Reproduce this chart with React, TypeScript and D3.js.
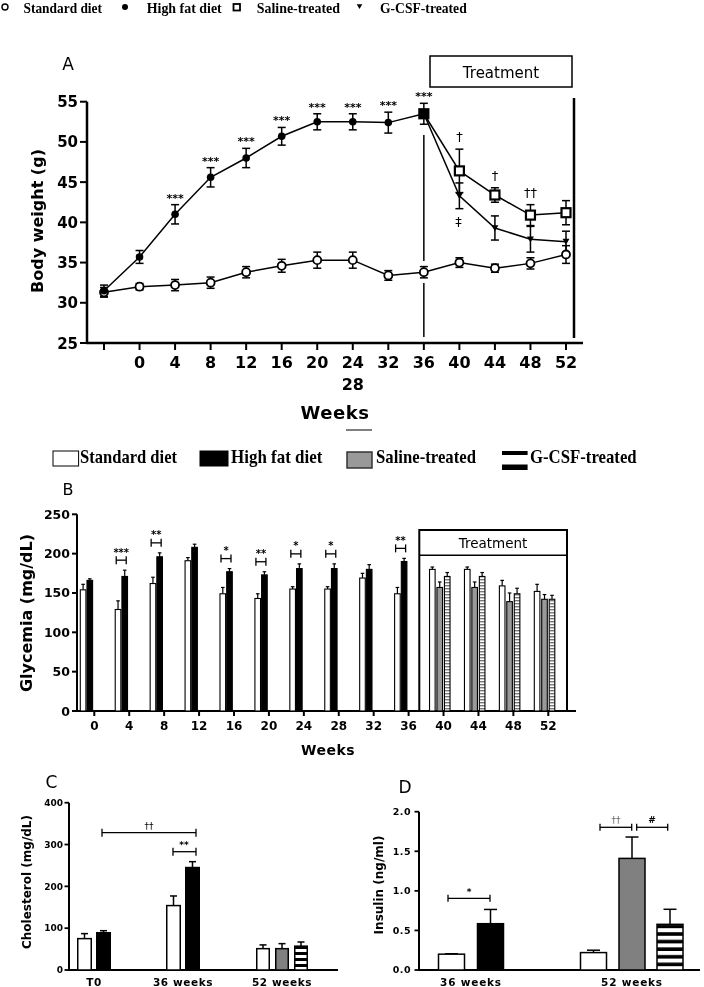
import React from 'react';
import * as d3 from 'd3';

const SANS = "'DejaVu Sans', sans-serif";
const SERIF = "'Liberation Serif', 'Times New Roman', serif";

// ---------- Panel A: body weight ----------
const weeksA = ["", "0", "4", "8", "12", "16", "20", "24", "32", "36", "40", "44", "48", "52"];
const stdA = [31.3, 32.0, 32.2, 32.5, 33.8, 34.6, 35.3, 35.3, 33.4, 33.8, 35.0, 34.3, 34.9, 36.0];
const stdErrA = [0.6, 0.4, 0.7, 0.7, 0.7, 0.8, 1.0, 1.0, 0.6, 0.7, 0.6, 0.5, 0.7, 1.1];
const hfWeeksA = ["", "0", "4", "8", "12", "16", "20", "24", "32", "36"];
const hfA = [31.5, 35.7, 41.0, 45.6, 48.0, 50.7, 52.5, 52.5, 52.4, 53.5];
const hfErrA = [0.7, 0.8, 1.2, 1.2, 1.2, 1.1, 1.0, 1.0, 1.3, 1.3];
const hfSigA = ["", "", "***", "***", "***", "***", "***", "***", "***", "***"];
const trWeeksA = ["36", "40", "44", "48", "52"];
const salA = [53.5, 46.4, 43.4, 40.9, 41.2];
const salErrA = [0, 2.7, 0.9, 1.3, 1.5];
const salSigA = ["", "†", "†", "††", ""];
const gcsfA = [53.5, 43.3, 39.3, 37.9, 37.6];
const gcsfErrA = [0, 1.6, 1.5, 1.6, 1.3];
const gcsfSigA = ["", "‡", "", "", ""];

// ---------- Panel B: glycemia ----------
const weeksB = ["0", "4", "8", "12", "16", "20", "24", "28", "32", "36", "40", "44", "48", "52"];
const stdB = [154, 129, 162, 191, 149, 143, 155, 155, 169, 149, 180, 180, 159, 152];
const stdErrB = [7, 11, 8, 4, 8, 6, 3, 3, 6, 8, 3, 3, 7, 9];
const hfWeeksB = ["0", "4", "8", "12", "16", "20", "24", "28", "32", "36"];
const hfB = [166, 171, 196, 208, 177, 173, 181, 181, 180, 190];
const hfErrB = [2, 8, 5, 4, 4, 4, 6, 6, 6, 4];
const sigB = ["", "***", "**", "", "*", "**", "*", "*", "", "**"];
const trWeeksB = ["40", "44", "48", "52"];
const salB = [157, 157, 139, 142];
const salErrB = [7, 7, 11, 6];
const gcsfB = [171, 171, 149, 142];
const gcsfErrB = [5, 5, 7, 5];

// ---------- Panel C: cholesterol ----------
const groupsC = ["T0", "36 weeks", "52 weeks"];
const stdC = [75, 154, 51];
const stdErrC = [12, 23, 9];
const hfC = [89, 245];
const hfErrC = [5, 14];
const salC = [51];
const salErrC = [12];
const gcsfC = [57];
const gcsfErrC = [10];

// ---------- Panel D: insulin ----------
const groupsD = ["36 weeks", "52 weeks"];
const stdD = [0.2, 0.22];
const stdErrD = [0.005, 0.03];
const hfD = [0.585];
const hfErrD = [0.18];
const salD = [1.41];
const salErrD = [0.27];
const gcsfD = [0.577];
const gcsfErrD = [0.19];

type TP = {
  x: number; y: number; size: number; sx?: number; anchor?: string; weight?: string | number;
  family?: string; rotate?: number; fill?: string; ls?: number; tl?: number; children: React.ReactNode;
};
const T = ({ x, y, size, sx = 1, anchor = 'middle', weight = 'bold', family = SANS, rotate = 0, fill = '#000', ls, tl, children }: TP) => (
  <text
    transform={`translate(${x},${y}) rotate(${rotate}) scale(${sx},1)`}
    fontSize={size}
    fontFamily={family}
    fontWeight={weight}
    textAnchor={anchor}
    fill={fill}
    letterSpacing={ls}
    textLength={tl}
    lengthAdjust={tl ? 'spacingAndGlyphs' : undefined}
  >
    {children}
  </text>
);

const ErrBar = ({ x, y0, y1, cap, w = 1.5 }: { x: number; y0: number; y1: number; cap: number; w?: number }) => (
  <g stroke="#000" strokeWidth={w} fill="none">
    <line x1={x} x2={x} y1={y0} y2={y1} />
    <line x1={x - cap} x2={x + cap} y1={y1} y2={y1} />
  </g>
);

const Bracket = ({ x1, x2, y, h = 4, w = 1.3 }: { x1: number; x2: number; y: number; h?: number; w?: number }) => (
  <g stroke="#000" strokeWidth={w} fill="none">
    <line x1={x1} x2={x2} y1={y} y2={y} />
    <line x1={x1} x2={x1} y1={y - h} y2={y + h} />
    <line x1={x2} x2={x2} y1={y - h} y2={y + h} />
  </g>
);

export default function App() {
  // Panel A scales
  const xA = d3.scalePoint<string>().domain(weeksA).range([104, 566]);
  const yA = d3.scaleLinear().domain([25, 55]).range([343, 101.7]);
  const lineA = d3.line<[string, number]>().x(d => xA(d[0]) as number).y(d => yA(d[1]));

  // Panel B scales
  const xB = d3.scalePoint<string>().domain(weeksB).range([94.3, 548.3]);
  const yB = d3.scaleLinear().domain([0, 250]).range([711, 514.3]);
  const bwB = 5.6;

  // Panel C scales
  const xC = d3.scaleOrdinal<string, number>().domain(groupsC).range([94, 183, 282]);
  const yC = d3.scaleLinear().domain([0, 400]).range([970, 802.7]);

  // Panel D scales
  const xD = d3.scaleOrdinal<string, number>().domain(groupsD).range([471, 632]);
  const yD = d3.scaleLinear().domain([0, 2]).range([970, 811.7]);

  const stdLine = lineA(weeksA.map((w, i) => [w, stdA[i]] as [string, number])) as string;
  const hfLine = lineA(hfWeeksA.map((w, i) => [w, hfA[i]] as [string, number])) as string;
  const salLine = lineA(trWeeksA.map((w, i) => [w, salA[i]] as [string, number])) as string;
  const gcsfLine = lineA(trWeeksA.map((w, i) => [w, gcsfA[i]] as [string, number])) as string;

  const tri = (cx: number, cy: number, s: number) => `M${cx - s},${cy - s * 0.8}L${cx + s},${cy - s * 0.8}L${cx},${cy + s * 0.9}Z`;

  return (
    <svg width={704} height={987} style={{ position: 'absolute', left: 0, top: 0, background: '#fff', filter: 'grayscale(100%)' }}>
      <defs>
        <pattern id="hatchB" patternUnits="userSpaceOnUse" width="8" height="3">
          <rect width="8" height="3" fill="#fff" />
          <rect width="8" height="1.4" fill="#777" />
        </pattern>
        <pattern id="stripeC" patternUnits="userSpaceOnUse" width="20" height="6" y="1">
          <rect width="20" height="6" fill="#fff" />
          <rect y="3" width="20" height="3" fill="#000" />
        </pattern>
        <pattern id="stripeD" patternUnits="userSpaceOnUse" width="30" height="7.6" y="1">
          <rect width="30" height="7.6" fill="#fff" />
          <rect y="4" width="30" height="3.6" fill="#000" />
        </pattern>
      </defs>

      {/* ---------- Top legend ---------- */}
      <g>
        <circle cx={5} cy={7} r={3} fill="#fff" stroke="#000" strokeWidth={1.4} />
        <T x={23.5} y={12.8} size={15} family={SERIF} anchor="start" tl={78.5}>Standard diet</T>
        <circle cx={125} cy={7} r={3} fill="#000" />
        <T x={146.7} y={12.8} size={15} family={SERIF} anchor="start" tl={75}>High fat diet</T>
        <rect x={233.5} y={4} width={6.5} height={6.5} fill="#fff" stroke="#000" strokeWidth={1.8} />
        <T x={256.7} y={12.8} size={15} family={SERIF} anchor="start" tl={83.3}>Saline-treated</T>
        <path d={tri(359.5, 6.5, 2.8)} fill="#000" />
        <T x={380} y={12.8} size={15} family={SERIF} anchor="start" tl={86.7}>G-CSF-treated</T>
      </g>

      {/* ---------- Panel A ---------- */}
      <g>
        <T x={68} y={70} size={17} weight="normal">A</T>
        <rect x={430} y={56} width={142} height={31} fill="none" stroke="#000" strokeWidth={1.5} />
        <T x={501} y={77.5} size={15} weight="normal">Treatment</T>

        {/* axes */}
        <line x1={87} x2={87} y1={101.7} y2={344} stroke="#000" strokeWidth={2.5} />
        <line x1={86} x2={583} y1={343} y2={343} stroke="#000" strokeWidth={2.5} />
        {yA.ticks(6).map(t => (
          <g key={t}>
            <line x1={80} x2={87} y1={yA(t)} y2={yA(t)} stroke="#000" strokeWidth={2} />
            <T x={78} y={yA(t) + 5.5} size={15} anchor="end">{t}</T>
          </g>
        ))}
        {weeksA.map(w => (
          <g key={'xa' + w}>
            <line x1={xA(w)} x2={xA(w)} y1={343} y2={350} stroke="#000" strokeWidth={2} />
            <T x={xA(w) as number} y={368} size={16}>{w}</T>
          </g>
        ))}
        <T x={xA('24') as number} y={390} size={16}>28</T>
        <T x={335} y={419} size={18} ls={0.5}>Weeks</T>
        <line x1={346} x2={372} y1={430} y2={430} stroke="#555" strokeWidth={1.5} />
        <T x={43} y={221} size={16} rotate={-90}>Body weight (g)</T>

        {/* vertical lines */}
        <line x1={xA('36')} x2={xA('36')} y1={135} y2={261} stroke="#000" strokeWidth={1.5} />
        <line x1={xA('36')} x2={xA('36')} y1={283} y2={337} stroke="#000" strokeWidth={1.5} />
        <line x1={574} x2={574} y1={98} y2={338} stroke="#000" strokeWidth={2.5} />

        {/* lines */}
        <path d={stdLine} fill="none" stroke="#000" strokeWidth={1.5} />
        <path d={hfLine} fill="none" stroke="#000" strokeWidth={1.5} />
        <path d={salLine} fill="none" stroke="#000" strokeWidth={1.5} />
        <path d={gcsfLine} fill="none" stroke="#000" strokeWidth={1.5} />

        {/* error bars */}
        {weeksA.map((w, i) => (
          <g key={'se' + i}>
            <ErrBar x={xA(w) as number} y0={yA(stdA[i])} y1={yA(stdA[i] + stdErrA[i])} cap={4} />
            <ErrBar x={xA(w) as number} y0={yA(stdA[i])} y1={yA(stdA[i] - stdErrA[i])} cap={4} />
          </g>
        ))}
        {hfWeeksA.map((w, i) => (
          <g key={'he' + i}>
            <ErrBar x={xA(w) as number} y0={yA(hfA[i])} y1={yA(hfA[i] + hfErrA[i])} cap={4} />
            <ErrBar x={xA(w) as number} y0={yA(hfA[i])} y1={yA(hfA[i] - hfErrA[i])} cap={4} />
          </g>
        ))}
        {trWeeksA.map((w, i) => salErrA[i] > 0 && (
          <g key={'sae' + i}>
            <ErrBar x={xA(w) as number} y0={yA(salA[i])} y1={yA(salA[i] + salErrA[i])} cap={4} />
            <ErrBar x={xA(w) as number} y0={yA(salA[i])} y1={yA(salA[i] - salErrA[i])} cap={4} />
          </g>
        ))}
        {trWeeksA.map((w, i) => gcsfErrA[i] > 0 && (
          <g key={'ge' + i}>
            <ErrBar x={xA(w) as number} y0={yA(gcsfA[i])} y1={yA(gcsfA[i] + gcsfErrA[i])} cap={4} />
            <ErrBar x={xA(w) as number} y0={yA(gcsfA[i])} y1={yA(gcsfA[i] - gcsfErrA[i])} cap={4} />
          </g>
        ))}

        {/* markers */}
        {weeksA.map((w, i) => (
          <circle key={'sm' + i} cx={xA(w)} cy={yA(stdA[i])} r={4} fill="#fff" stroke="#000" strokeWidth={1.8} />
        ))}
        {trWeeksA.map((w, i) => (
          <rect key={'sam' + i} x={(xA(w) as number) - 4.5} y={yA(salA[i]) - 4.5} width={9} height={9} fill={i === 0 ? '#000' : '#fff'} stroke="#000" strokeWidth={2.2} />
        ))}
        {trWeeksA.map((w, i) => (
          <path key={'gm' + i} d={tri(xA(w) as number, yA(gcsfA[i]), 3.5)} fill="#000" />
        ))}
        {hfWeeksA.map((w, i) => (
          <circle key={'hm' + i} cx={xA(w)} cy={yA(hfA[i])} r={3.8} fill="#000" />
        ))}

        {/* significance */}
        {hfWeeksA.map((w, i) => hfSigA[i] && (
          <T key={'hs' + i} x={xA(w) as number} y={yA(hfA[i] + hfErrA[i]) - 3} size={11}>{hfSigA[i]}</T>
        ))}
        {trWeeksA.map((w, i) => salSigA[i] && (
          <T key={'ss' + i} x={xA(w) as number} y={yA(salA[i] + salErrA[i]) - 8} size={13} weight="normal">{salSigA[i]}</T>
        ))}
        {trWeeksA.map((w, i) => gcsfSigA[i] && (
          <T key={'gs' + i} x={(xA(w) as number) - 1} y={yA(gcsfA[i] - gcsfErrA[i]) + 17} size={13} weight="normal">{gcsfSigA[i]}</T>
        ))}
      </g>

      {/* ---------- Panel B legend ---------- */}
      <g>
        <rect x={53} y={451} width={25.6} height={15} fill="#fff" stroke="#000" strokeWidth={1} />
        <T x={80} y={462.7} size={19} family={SERIF} anchor="start" tl={97}>Standard diet</T>
        <rect x={200} y={451} width={28} height={15} fill="#000" stroke="#000" strokeWidth={1} />
        <T x={231} y={462.7} size={19} family={SERIF} anchor="start" tl={91.4}>High fat diet</T>
        <rect x={347} y={452} width={25} height={16} fill="#999" stroke="#333" strokeWidth={1.5} />
        <T x={376} y={462.7} size={19} family={SERIF} anchor="start" tl={100}>Saline-treated</T>
        <rect x={502} y={451} width={25.6} height={19} fill="#fff" />
        <rect x={502} y={451} width={25.6} height={4} fill="#000" />
        <rect x={502} y={464.5} width={25.6} height={5.5} fill="#000" />
        <T x={530} y={462.7} size={19} family={SERIF} anchor="start" tl={106.7}>G-CSF-treated</T>
      </g>

      {/* ---------- Panel B ---------- */}
      <g>
        <T x={68} y={495} size={16} weight="normal">B</T>
        <line x1={77} x2={77} y1={514.3} y2={712} stroke="#000" strokeWidth={2} />
        <line x1={76} x2={576} y1={711} y2={711} stroke="#000" strokeWidth={2} />
        {yB.ticks(5).map(t => (
          <g key={'yb' + t}>
            <line x1={72} x2={77} y1={yB(t)} y2={yB(t)} stroke="#000" strokeWidth={2} />
            <T x={70} y={yB(t) + 4.5} size={12.5} anchor="end">{t}</T>
          </g>
        ))}
        {weeksB.map(w => (
          <g key={'xb' + w}>
            <line x1={xB(w)} x2={xB(w)} y1={711} y2={716} stroke="#000" strokeWidth={2} />
            <T x={xB(w) as number} y={730} size={12}>{w}</T>
          </g>
        ))}
        <T x={328} y={755} size={14} ls={0.5}>Weeks</T>
        <T x={32} y={613} size={16} rotate={-90}>Glycemia (mg/dL)</T>

        {/* treatment box */}
        <rect x={419.3} y={530} width={147.7} height={181} fill="none" stroke="#000" strokeWidth={2} />
        <line x1={419.3} x2={567} y1={555.3} y2={555.3} stroke="#000" strokeWidth={1.5} />
        <T x={493} y={548} size={13.5} weight="normal">Treatment</T>

        {/* standard diet bars */}
        {weeksB.map((w, i) => {
          const x0 = (xB(w) as number) - 14;
          return (
            <g key={'sb' + i}>
              <ErrBar x={x0 + bwB / 2} y0={yB(stdB[i])} y1={yB(stdB[i] + stdErrB[i])} cap={1.8} w={1.2} />
              <rect x={x0} y={yB(stdB[i])} width={bwB} height={711 - yB(stdB[i])} fill="#fff" stroke="#000" strokeWidth={1.1} />
            </g>
          );
        })}
        {hfWeeksB.map((w, i) => {
          const x0 = (xB(w) as number) - 7.3;
          return (
            <g key={'hb' + i}>
              <ErrBar x={x0 + bwB / 2} y0={yB(hfB[i])} y1={yB(hfB[i] + hfErrB[i])} cap={1.8} w={1.2} />
              <rect x={x0} y={yB(hfB[i])} width={bwB} height={711 - yB(hfB[i])} fill="#000" stroke="#000" strokeWidth={1.1} />
            </g>
          );
        })}
        {trWeeksB.map((w, i) => {
          const x0 = (xB(w) as number) - 6.6;
          return (
            <g key={'slb' + i}>
              <ErrBar x={x0 + bwB / 2} y0={yB(salB[i])} y1={yB(salB[i] + salErrB[i])} cap={1.8} w={1.2} />
              <rect x={x0} y={yB(salB[i])} width={bwB} height={711 - yB(salB[i])} fill="#999" stroke="#000" strokeWidth={1.1} />
            </g>
          );
        })}
        {trWeeksB.map((w, i) => {
          const x0 = (xB(w) as number) + 0.9;
          return (
            <g key={'gb' + i}>
              <ErrBar x={x0 + bwB / 2} y0={yB(gcsfB[i])} y1={yB(gcsfB[i] + gcsfErrB[i])} cap={1.8} w={1.2} />
              <rect x={x0} y={yB(gcsfB[i])} width={bwB} height={711 - yB(gcsfB[i])} fill="url(#hatchB)" stroke="#000" strokeWidth={1.1} />
            </g>
          );
        })}
        {hfWeeksB.map((w, i) => {
          if (!sigB[i]) return null;
          const t = xB(w) as number;
          const by = yB(hfB[i] + hfErrB[i]) - 10;
          return (
            <g key={'sgb' + i}>
              <Bracket x1={t - 13} x2={t - 3} y={by} h={4} w={1.3} />
              <T x={t - 8} y={by - 4.5} size={10}>{sigB[i]}</T>
            </g>
          );
        })}
      </g>

      {/* ---------- Panel C ---------- */}
      <g>
        <T x={51.5} y={788} size={17} weight="normal">C</T>
        <line x1={69} x2={69} y1={802.7} y2={971} stroke="#000" strokeWidth={2} />
        <line x1={68} x2={338} y1={970} y2={970} stroke="#000" strokeWidth={2} />
        {yC.ticks(4).map(t => (
          <g key={'yc' + t}>
            <line x1={64.5} x2={69} y1={yC(t)} y2={yC(t)} stroke="#000" strokeWidth={1.8} />
            <T x={63} y={yC(t) + 3.3} size={9} anchor="end">{t}</T>
          </g>
        ))}
        {groupsC.map(g => (
          <T key={'xc' + g} x={xC(g)} y={986} size={10.5} ls={0.6}>{g}</T>
        ))}
        <T x={31} y={882} size={12} rotate={-90}>Cholesterol (mg/dL)</T>

        {groupsC.map((g, i) => {
          const c = xC(g);
          const three = i === 2;
          const bw = three ? 12.5 : 13.5;
          const bars: { v: number; e: number; fill: string; off: number }[] = [];
          bars.push({ v: stdC[i], e: stdErrC[i], fill: '#fff', off: three ? -19 : -9.5 });
          if (i < hfC.length) bars.push({ v: hfC[i], e: hfErrC[i], fill: '#000', off: 9.5 });
          if (three) {
            bars.push({ v: salC[0], e: salErrC[0], fill: '#808080', off: 0 });
            bars.push({ v: gcsfC[0], e: gcsfErrC[0], fill: 'url(#stripeC)', off: 19 });
          }
          return (
            <g key={'cb' + i}>
              {bars.map((b, j) => (
                <g key={j}>
                  <ErrBar x={c + b.off} y0={yC(b.v)} y1={yC(b.v + b.e)} cap={3.5} w={1.5} />
                  <rect x={c + b.off - bw / 2} y={yC(b.v)} width={bw} height={970 - yC(b.v)} fill={b.fill} stroke="#000" strokeWidth={1.5} />
                </g>
              ))}
            </g>
          );
        })}
        <Bracket x1={102} x2={196} y={832.7} h={4} w={1.3} />
        <T x={149} y={829} size={9} weight="normal">††</T>
        <Bracket x1={173} x2={196} y={851.7} h={4} w={1.3} />
        <T x={184} y={848} size={9}>**</T>
      </g>

      {/* ---------- Panel D ---------- */}
      <g>
        <T x={405} y={793} size={17} weight="normal">D</T>
        <line x1={419} x2={419} y1={811.7} y2={971} stroke="#000" strokeWidth={2} />
        <line x1={418} x2={700} y1={970} y2={970} stroke="#000" strokeWidth={2} />
        {yD.ticks(4).map(t => (
          <g key={'yd' + t}>
            <line x1={414.5} x2={419} y1={yD(t)} y2={yD(t)} stroke="#000" strokeWidth={1.8} />
            <T x={411} y={yD(t) + 3.3} size={9.5} anchor="end" ls={0.5}>{d3.format('.1f')(t)}</T>
          </g>
        ))}
        {groupsD.map(g => (
          <T key={'xd' + g} x={xD(g)} y={986} size={10.5} ls={0.8}>{g}</T>
        ))}
        <T x={383} y={885} size={12} rotate={-90}>Insulin (ng/ml)</T>

        {groupsD.map((g, i) => {
          const c = xD(g);
          const three = i === 1;
          const bw = 26;
          const bars: { v: number; e: number; fill: string; off: number }[] = [];
          bars.push({ v: stdD[i], e: stdErrD[i], fill: '#fff', off: three ? -38.5 : -19.5 });
          if (i < hfD.length) bars.push({ v: hfD[i], e: hfErrD[i], fill: '#000', off: 19.5 });
          if (three) {
            bars.push({ v: salD[0], e: salErrD[0], fill: '#808080', off: 0 });
            bars.push({ v: gcsfD[0], e: gcsfErrD[0], fill: 'url(#stripeD)', off: 38 });
          }
          return (
            <g key={'db' + i}>
              {bars.map((b, j) => (
                <g key={j}>
                  <ErrBar x={c + b.off} y0={yD(b.v)} y1={yD(b.v + b.e)} cap={6.5} w={1.5} />
                  <rect x={c + b.off - bw / 2} y={yD(b.v)} width={bw} height={970 - yD(b.v)} fill={b.fill} stroke="#000" strokeWidth={1.5} />
                </g>
              ))}
            </g>
          );
        })}
        <Bracket x1={448} x2={490} y={898.3} h={3.5} w={1.3} />
        <T x={469} y={895} size={9}>*</T>
        <Bracket x1={600} x2={631.7} y={827.3} h={3.5} w={1.3} />
        <T x={616} y={823} size={9} weight="normal" fill="#666">††</T>
        <Bracket x1={636.7} x2={667.7} y={827.3} h={3.5} w={1.3} />
        <T x={652} y={823} size={9}>#</T>
      </g>
    </svg>
  );
}
